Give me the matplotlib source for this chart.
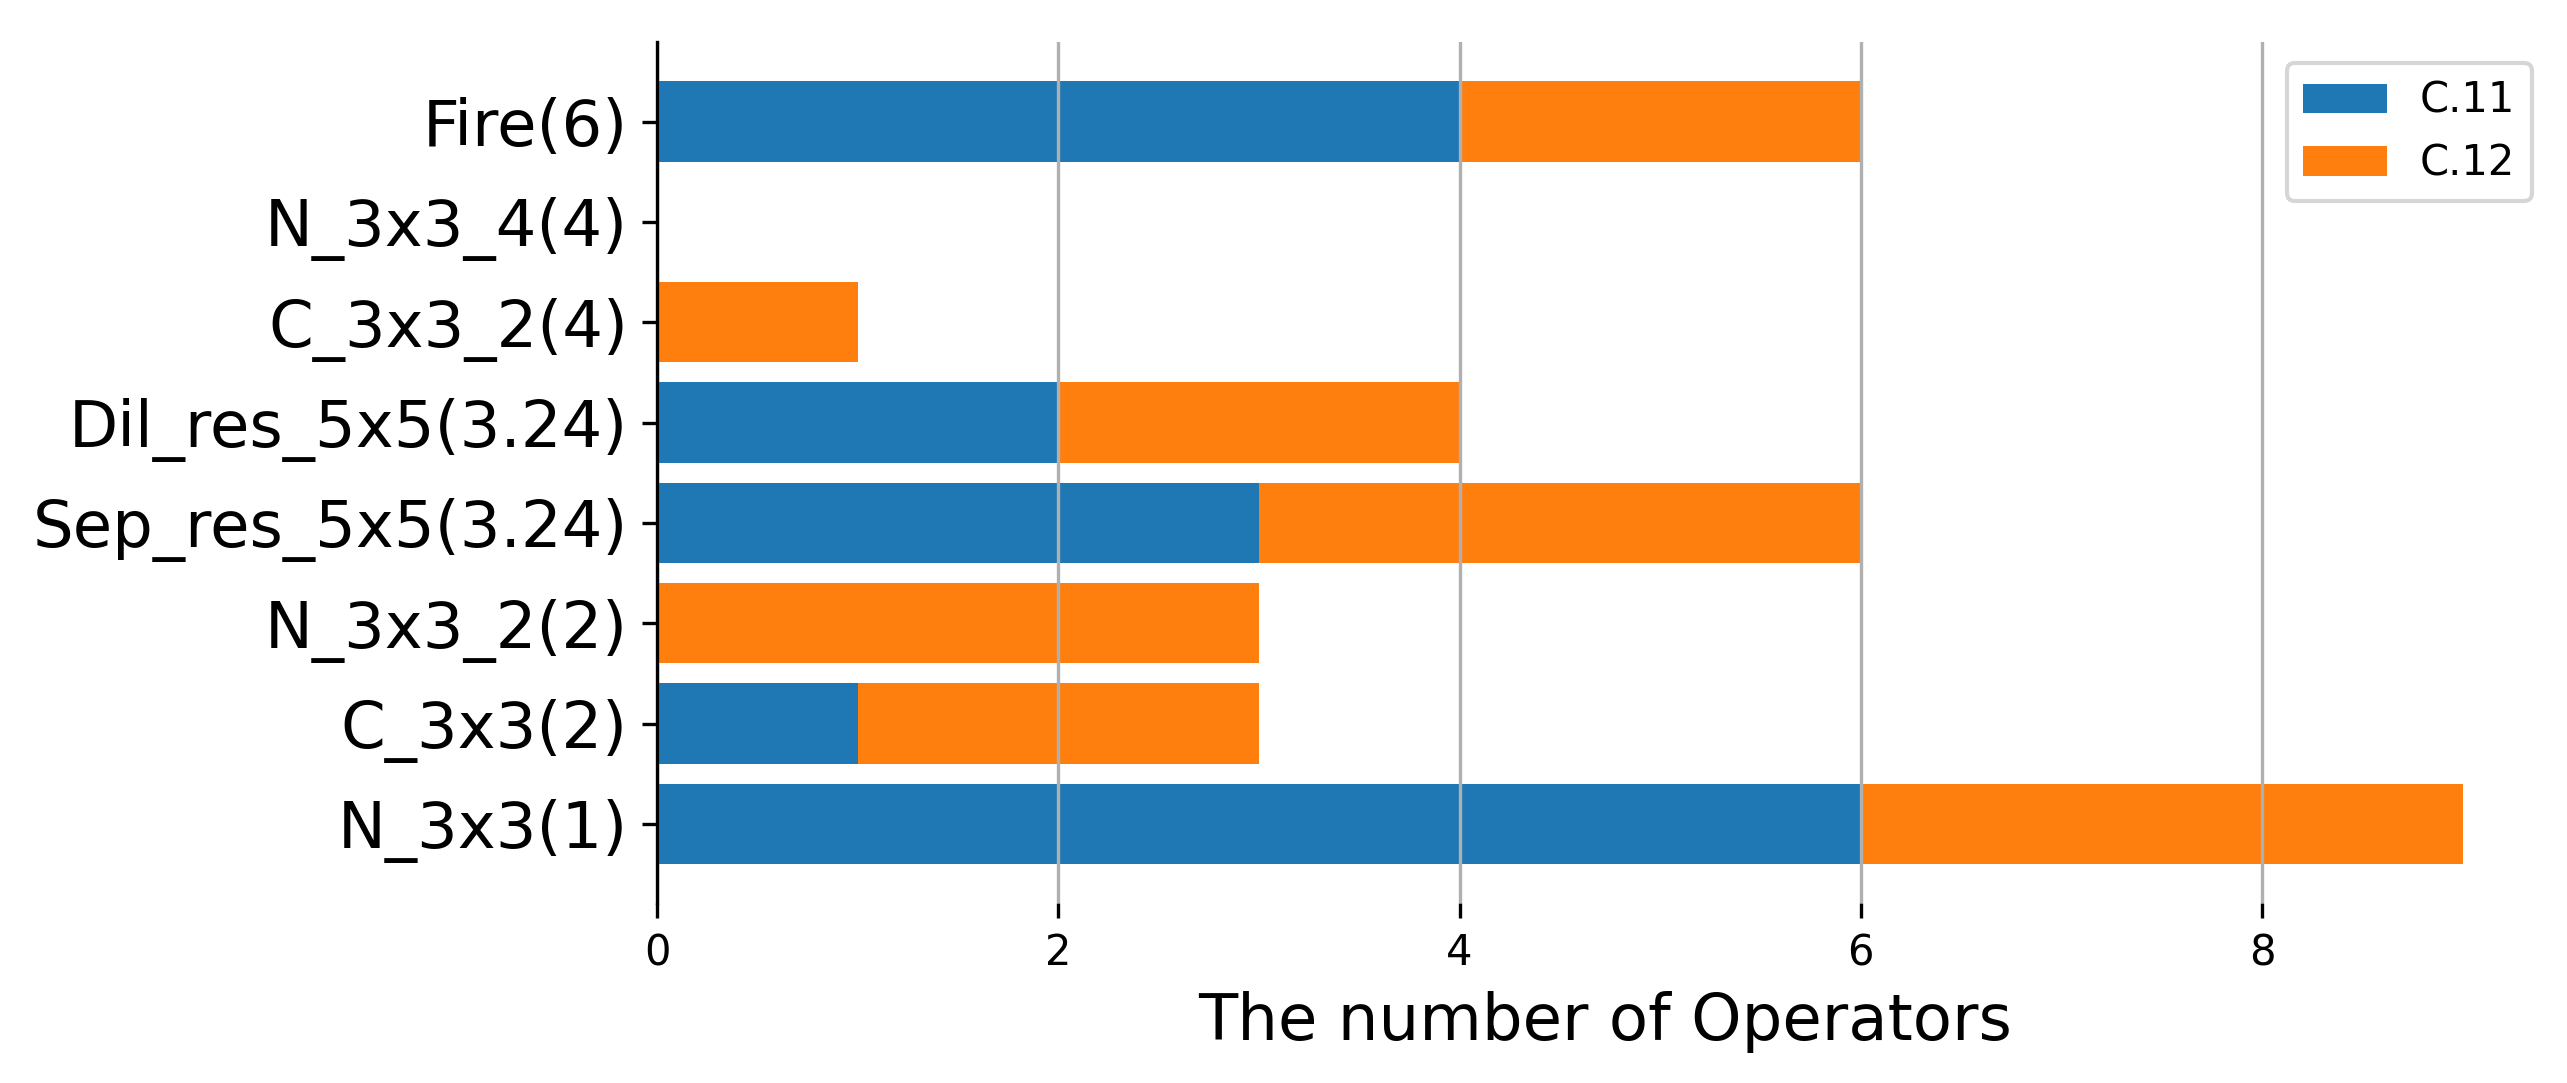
import matplotlib.pyplot as plt
import numpy as np

# operator names, bottom to top
ops = ['N_3x3(1)', 'C_3x3(2)', 'N_3x3_2(2)', 'Sep_res_5x5(3.24)',
       'Dil_res_5x5(3.24)', 'C_3x3_2(4)', 'N_3x3_4(4)', 'Fire(6)']
c11 = [6, 1, 0, 3, 2, 0, 0, 4]
c12 = [3, 2, 3, 3, 2, 1, 0, 2]

fig = plt.figure(figsize=(2567/300, 1083/300), dpi=300)
ax = fig.add_axes([0.256, 0.166, 0.7385, 0.795])

y = np.arange(len(ops))
ax.barh(y, c11, height=0.8, color='#1f77b4', label='C.11')
ax.barh(y, c12, height=0.8, left=c11, color='#ff7f0e', label='C.12')

ax.set_yticks(y)
ax.set_yticklabels(ops, fontsize=15.4)
ax.set_xlabel('The number of Operators', fontsize=15.4)
ax.grid(axis='x')

for s in ['top', 'right', 'bottom']:
    ax.spines[s].set_visible(False)

ax.legend(loc='upper right')

fig.savefig('out.png', dpi=300)
